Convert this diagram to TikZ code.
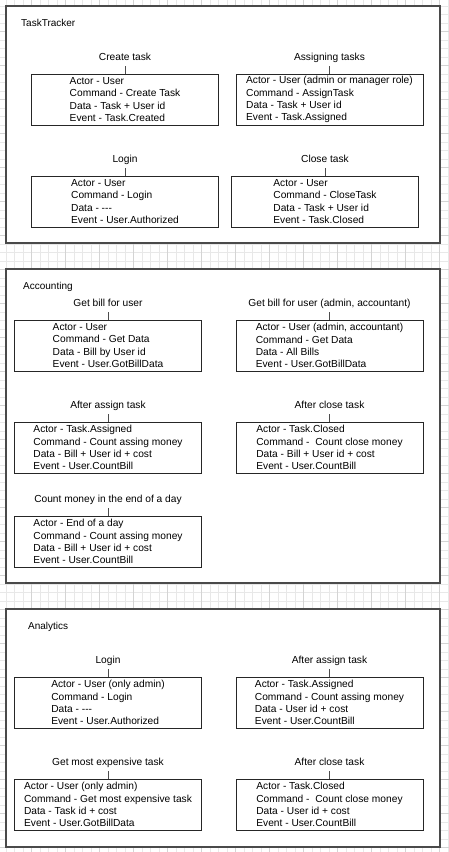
\documentclass[tikz,border=0pt]{standalone}
\usepackage{fontspec}
\setmainfont{Liberation Sans}
\usepackage{tikz}
\usepackage{xcolor}
\definecolor{gridminor}{HTML}{E8E8E8}
\definecolor{gridmajor}{HTML}{D4D4D4}
\definecolor{framegray}{HTML}{4A4A4A}

\begin{document}
\begin{tikzpicture}[x=1pt,y=-1pt]
        \tikzset{
        ev box/.style={draw=black!85,line width=0.9pt,minimum width=187pt,minimum height=51pt,inner sep=0,align=left,font=\fontsize{10.2}{12.24}\selectfont},
        ev title/.style={inner sep=3pt,text height=7.5pt,text depth=2.5pt,font=\fontsize{10.2}{12.24}\selectfont},
        sec frame/.style={draw=framegray,fill=white,line width=1.2pt},
        sec title/.style={anchor=base west,inner sep=0,font=\fontsize{10}{12}\selectfont}
        }
        \useasboundingbox (0,0) rectangle (448,852);
        \fill[white] (0,0) rectangle (448,852);
        \draw[gridminor,line width=0.7pt,shift={(-2.5,-2.5)},step=8.5pt] (-10,870) grid (460,-10);
        \draw[gridmajor,line width=0.7pt,shift={(-2.5,-2.5)},step=34pt] (-10,870) grid (460,-10);

        % frames
        \draw[sec frame] (6,6) rectangle (440,243);
        \draw[sec frame] (6,269) rectangle (440,583);
        \draw[sec frame] (6,609) rectangle (440,847);
        \node[sec title] (tasktracker) at (21,26.6) {TaskTracker};
        \node[sec title] (accounting) at (23,289.6) {Accounting};
        \node[sec title] (analytics) at (28,629.6) {Analytics};

        % TaskTracker
        \node[ev box] (create) at (125,99.5) {Actor - User\\Command - Create Task\\Data - Task + User id\\Event - Task.Created};
        \node[ev title] (create h) at (125,58) {Create task};
        \node[ev box] (assign) at (329.5,99.5) {Actor - User (admin or manager role)\\Command - AssignTask\\Data - Task + User id\\Event - Task.Assigned};
        \node[ev title] (assign h) at (329.5,58) {Assigning tasks};
        \node[ev box] (login) at (125,201.5) {Actor - User\\Command - Login\\Data - -{}-{}-\\Event - User.Authorized};
        \node[ev title] (login h) at (125,160) {Login};
        \node[ev box] (close) at (325,201.5) {Actor - User\\Command - CloseTask\\Data - Task + User id\\Event - Task.Closed};
        \node[ev title] (close h) at (325,160) {Close task};

        % Accounting
        \node[ev box] (bill) at (108,345.5) {Actor - User\\Command - Get Data\\Data - Bill by User id\\Event - User.GotBillData};
        \node[ev title] (bill h) at (108,304) {Get bill for user};
        \node[ev box] (bill all) at (329.5,345.5) {Actor - User (admin, accountant)\\Command - Get Data\\Data - All Bills\\Event - User.GotBillData};
        \node[ev title] (bill all h) at (329.5,304) {Get bill for user (admin, accountant)};
        \node[ev box] (acc assign) at (108,447.5) {Actor - Task.Assigned\\Command - Count assing money\\Data - Bill + User id + cost\\Event - User.CountBill};
        \node[ev title] (acc assign h) at (108,406) {After assign task};
        \node[ev box] (acc close) at (329.5,447.5) {Actor - Task.Closed\\Command -~ Count close money\\Data - Bill + User id + cost\\Event - User.CountBill};
        \node[ev title] (acc close h) at (329.5,406) {After close task};
        \node[ev box] (day end) at (108,541.5) {Actor - End of a day\\Command - Count assing money\\Data - Bill + User id + cost\\Event - User.CountBill};
        \node[ev title] (day end h) at (108,500) {Count money in the end of a day};

        % Analytics
        \node[ev box] (an login) at (108,702.5) {Actor - User (only admin)\\Command - Login\\Data - -{}-{}-\\Event - User.Authorized};
        \node[ev title] (an login h) at (108,661) {Login};
        \node[ev box] (an assign) at (329.5,702.5) {Actor - Task.Assigned\\Command - Count assing money\\Data - User id + cost\\Event - User.CountBill};
        \node[ev title] (an assign h) at (329.5,661) {After assign task};
        \node[ev box] (expensive) at (108,804.5) {Actor - User (only admin)\\Command - Get most expensive task\\Data - Task id + cost\\Event - User.GotBillData};
        \node[ev title] (expensive h) at (108,763) {Get most expensive task};
        \node[ev box] (an close) at (329.5,804.5) {Actor - Task.Closed\\Command -~ Count close money\\Data - User id + cost\\Event - User.CountBill};
        \node[ev title] (an close h) at (329.5,763) {After close task};

        \path[-,draw=black!70,line width=0.9pt]
        (create h) edge (create)
        (assign h) edge (assign)
        (login h) edge (login)
        (close h) edge (close)
        (bill h) edge (bill)
        (bill all h) edge (bill all)
        (acc assign h) edge (acc assign)
        (acc close h) edge (acc close)
        (day end h) edge (day end)
        (an login h) edge (an login)
        (an assign h) edge (an assign)
        (expensive h) edge (expensive)
        (an close h) edge (an close)
        ;
    \end{tikzpicture}
\end{document}
